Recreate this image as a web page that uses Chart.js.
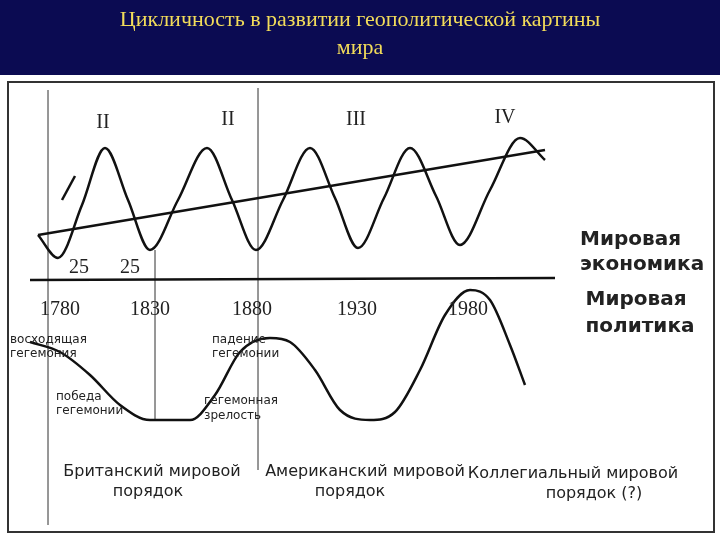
<!DOCTYPE html><html><head><meta charset="utf-8">
<script src="https://cdn.jsdelivr.net/npm/chart.js@4"></script>
<style>html,body{margin:0;padding:0;background:#fff}#w{width:720px;height:540px}</style></head><body>
<div id="w"><canvas id="c" width="720" height="540"></canvas></div>
<script>
// economy wave points (diagram units: x 0-720, y 0-540 top-down)
const econX=[38,58,82,105,128,150,178,207,232,256,283,310,335,358,384,410,436,460,490,520,545];
const econY=[235,258,205,148,200,250,200,148,200,250,200,148,198,248,198,148,196,245,190,138,160];
const trendX=[38,545], trendY=[235,150];
const baseX=[30,555], baseY=[280,278];
const polX=[30,60,90,120,150,190,215,240,270,290,315,340,370,395,420,445,470,490,510,525];
const polY=[342,352,375,405,420,420,395,352,338,342,370,410,420,412,370,315,290,300,345,385];
const vLines=[[48,90,525],[155,250,420],[258,88,470]];
const years=["1780","1830","1880","1930","1980"], yearX=[60,150,252,357,468];
const pts=(xs,ys)=>xs.map((x,i)=>({x,y:ys[i]}));
const ds=[
 {data:pts(econX,econY),borderColor:'#111',borderWidth:2.5,cubicInterpolationMode:'monotone',pointRadius:0},
 {data:pts(trendX,trendY),borderColor:'#111',borderWidth:2.5,pointRadius:0},
 {data:pts(baseX,baseY),borderColor:'#111',borderWidth:2.5,pointRadius:0},
 {data:pts(polX,polY),borderColor:'#111',borderWidth:2.5,cubicInterpolationMode:'monotone',pointRadius:0},
 {data:[{x:62,y:200},{x:75,y:176}],borderColor:'#111',borderWidth:2.5,pointRadius:0},
 ...vLines.map(v=>({data:[{x:v[0],y:v[1]},{x:v[0],y:v[2]}],borderColor:'#888',borderWidth:1,pointRadius:0}))
];
const deco={id:'deco',beforeDraw(ch){const c=ch.ctx;c.save();c.fillStyle='#0b0b52';c.fillRect(0,0,720,75);
 c.strokeStyle='#333';c.lineWidth=2;c.strokeRect(8,82,706,450);c.restore();},
 afterDraw(ch){const c=ch.ctx;c.save();c.textAlign='center';c.textBaseline='middle';
 c.fillStyle='#f2dc5a';c.font='22px "Liberation Serif"';
 c.fillText('Цикличность в развитии геополитической картины',360,20);c.fillText('мира',360,48);
 c.fillStyle='#222';c.font='20px "Liberation Serif"';
 [['II',103,123],['II',228,120],['III',356,120],['IV',505,118]].forEach(t=>c.fillText(t[0],t[1],t[2]));
 c.fillText('25',79,268);c.fillText('25',130,268);
 years.forEach((y,i)=>c.fillText(y,yearX[i],310));
 c.font='bold 20px "DejaVu Sans"';c.textAlign='left';
 c.fillText('Мировая',580,240);c.fillText('экономика',580,265);
 c.textAlign='center';c.fillText('Мировая',636,300);c.fillText('политика',640,327);
 c.font='12px "DejaVu Sans"';c.textAlign='left';
 c.fillText('восходящая',10,340);c.fillText('гегемония',10,354);
 c.fillText('победа',56,397);c.fillText('гегемонии',56,411);
 c.fillText('падение',212,340);c.fillText('гегемонии',212,354);
 c.fillText('гегемонная',204,401);c.fillText('зрелость',204,416);
 c.font='16px "DejaVu Sans"';c.textAlign='center';
 c.fillText('Британский мировой',152,472);c.fillText('порядок',148,492);
 c.fillText('Американский мировой',365,472);c.fillText('порядок',350,492);
 c.fillText('Коллегиальный мировой',573,474);c.fillText('порядок (?)',594,494);
 c.restore();}};
new Chart(document.getElementById('c'),{type:'line',data:{datasets:ds},plugins:[deco],
 options:{responsive:false,animation:false,layout:{padding:0},
 plugins:{legend:{display:false},tooltip:{enabled:false}},
 scales:{x:{type:'linear',min:0,max:720,display:false},y:{min:0,max:540,reverse:true,display:false}}}});
</script></body></html>
